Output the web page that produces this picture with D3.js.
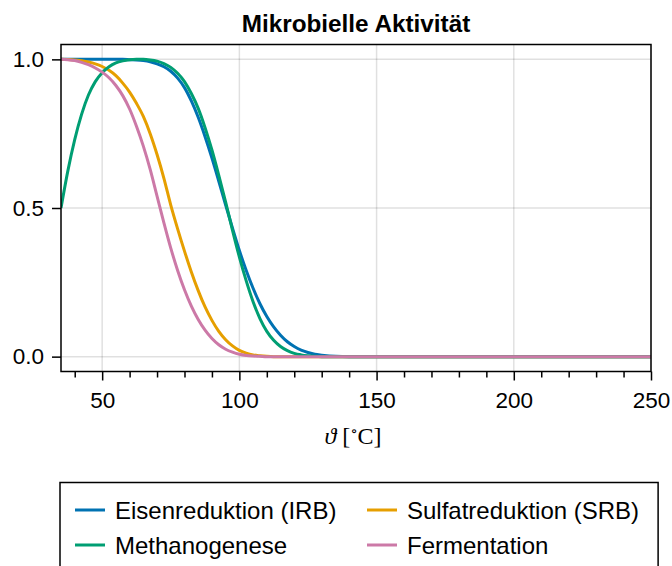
<!DOCTYPE html>
<html>
<head>
<meta charset="utf-8">
<script src="https://cdn.jsdelivr.net/npm/d3@7"></script>
<style>
  html, body { margin: 0; padding: 0; background: #fff; }
  svg { display: block; }
</style>
</head>
<body>
<svg id="chart" width="672" height="566"></svg>
<script>
// ---- Data ----
const temps = [35, 37.5, 40, 42.5, 45, 47.5, 50, 52.5, 55, 57.5,
               60, 62.5, 65, 67.5, 70, 72.5, 75, 77.5, 80, 82.5,
               85, 87.5, 90, 92.5, 95, 97.5, 100, 102.5, 105, 107.5,
               110, 112.5, 115, 117.5, 120, 122.5, 125, 127.5, 130,
               135, 140, 150, 175, 200, 225, 250];
const irb  = [1, 1, 1, 1, 1, 1, 1, 1, 1, 1,
              0.999, 0.998, 0.996, 0.992, 0.985, 0.975, 0.96, 0.937, 0.905, 0.86,
              0.805, 0.74, 0.668, 0.59, 0.51, 0.432, 0.357, 0.29, 0.23, 0.178,
              0.135, 0.1, 0.072, 0.05, 0.034, 0.022, 0.014, 0.008, 0.005,
              0.001, 0, 0, 0, 0, 0, 0];
const srb  = [1, 0.9995, 0.998, 0.995, 0.991, 0.985, 0.976, 0.963, 0.945, 0.92,
              0.89, 0.852, 0.808, 0.75, 0.68, 0.6, 0.51, 0.43, 0.355, 0.285,
              0.222, 0.167, 0.122, 0.085, 0.057, 0.036, 0.021, 0.012, 0.006, 0.003,
              0.001, 0, 0, 0, 0, 0, 0, 0, 0,
              0, 0, 0, 0, 0, 0, 0];
const meth = [0.5, 0.625, 0.73, 0.815, 0.88, 0.925, 0.955, 0.975, 0.988, 0.995,
              0.999, 1, 1, 0.998, 0.994, 0.986, 0.973, 0.953, 0.925, 0.885,
              0.835, 0.77, 0.695, 0.61, 0.52, 0.425, 0.335, 0.255, 0.185, 0.128,
              0.085, 0.055, 0.034, 0.02, 0.011, 0.006, 0.003, 0.001, 0,
              0, 0, 0, 0, 0, 0, 0];
const ferm = [1, 0.999, 0.996, 0.99, 0.982, 0.971, 0.957, 0.938, 0.912, 0.878,
              0.833, 0.775, 0.708, 0.63, 0.54, 0.45, 0.365, 0.29, 0.225, 0.17,
              0.125, 0.089, 0.061, 0.04, 0.025, 0.015, 0.008, 0.004, 0.002, 0.001,
              0, 0, 0, 0, 0, 0, 0, 0, 0,
              0, 0, 0, 0, 0, 0, 0];

const seriesNames  = ["Eisenreduktion (IRB)", "Sulfatreduktion (SRB)", "Methanogenese", "Fermentation"];
const seriesValues = [irb, srb, meth, ferm];
const seriesColors = ["#0072B2", "#E69F00", "#009E73", "#CC79A7"];

const xTicks = [50, 100, 150, 200, 250];
const xMinorTicks = [40, 60, 70, 80, 90, 110, 120, 130, 140, 160, 170, 180, 190, 210, 220, 230, 240];
const yTicks = [0.0, 0.5, 1.0];
const yTickLabels = ["0.0", "0.5", "1.0"];

const titleText = "Mikrobielle Aktivität";

// ---- Layout ----
const svg = d3.select("#chart");
const pL = 61, pR = 651, pT = 44.5, pB = 371.5;
const font = "'Liberation Sans', Arial, Helvetica, sans-serif";

const x = d3.scaleLinear().domain([35, 250]).range([pL, pR]);
const y = d3.scaleLinear().domain([-0.05, 1.05]).range([pB, pT]);

// grid
const grid = svg.append("g");
grid.selectAll("line.gx").data(xTicks).join("line")
  .attr("x1", d => x(d)).attr("x2", d => x(d))
  .attr("y1", pT).attr("y2", pB)
  .attr("stroke", "#000").attr("stroke-opacity", 0.12).attr("stroke-width", 1.5);
grid.selectAll("line.gy").data(yTicks).join("line")
  .attr("y1", d => y(d)).attr("y2", d => y(d))
  .attr("x1", pL).attr("x2", pR)
  .attr("stroke", "#000").attr("stroke-opacity", 0.12).attr("stroke-width", 1.5);

// clip
svg.append("clipPath").attr("id", "clip").append("rect")
  .attr("x", pL).attr("y", pT).attr("width", pR - pL).attr("height", pB - pT);

const line = d3.line()
  .x((d, i) => x(temps[i]))
  .y(d => y(d))
  .curve(d3.curveMonotoneX);

const lines = svg.append("g").attr("clip-path", "url(#clip)");
seriesValues.forEach((vals, k) => {
  lines.append("path")
    .attr("d", line(vals))
    .attr("fill", "none")
    .attr("stroke", seriesColors[k])
    .attr("stroke-width", 3)
    .attr("stroke-linejoin", "round");
});

// axes
const xAxis = d3.axisBottom(x).tickValues(xTicks).tickSize(9).tickPadding(12).tickFormat(d3.format("d"));
const gx = svg.append("g").attr("transform", `translate(0,${pB})`).call(xAxis);
gx.select(".domain").remove();
gx.selectAll(".tick line").attr("stroke-width", 1.5);
gx.selectAll(".tick text").attr("font-family", font).attr("font-size", 22.5).attr("fill", "#000");

const xMinorAxis = d3.axisBottom(x).tickValues(xMinorTicks).tickSize(6).tickFormat("");
const gxm = svg.append("g").attr("transform", `translate(0,${pB})`).call(xMinorAxis);
gxm.select(".domain").remove();
gxm.selectAll(".tick line").attr("stroke-width", 1.5);

const yAxis = d3.axisLeft(y).tickValues(yTicks).tickSize(9).tickPadding(8).tickFormat((d, i) => yTickLabels[i]);
const gy = svg.append("g").attr("transform", `translate(${pL},0)`).call(yAxis);
gy.select(".domain").remove();
gy.selectAll(".tick line").attr("stroke-width", 1.5);
gy.selectAll(".tick text").attr("font-family", font).attr("font-size", 22.5).attr("fill", "#000");

// frame
svg.append("rect")
  .attr("x", pL).attr("y", pT).attr("width", pR - pL).attr("height", pB - pT)
  .attr("fill", "none").attr("stroke", "#000").attr("stroke-width", 1.5);

// title
svg.append("text")
  .attr("x", (pL + pR) / 2).attr("y", 32)
  .attr("text-anchor", "middle")
  .attr("font-family", font).attr("font-weight", "bold").attr("font-size", 24.3)
  .text(titleText);

// x label
const xl = svg.append("text")
  .attr("x", (pL + pR) / 2 - 3).attr("y", 444)
  .attr("text-anchor", "middle")
  .attr("font-family", "'Liberation Serif', 'DejaVu Serif', serif").attr("font-size", 24);
xl.append("tspan").attr("font-style", "italic").text("ϑ");
xl.append("tspan").text(" [");
xl.append("tspan").attr("font-size", 15).attr("dy", -8).text("∘");
xl.append("tspan").attr("dy", 8).text("C]");

// legend
const legX = 60, legY = 482.5;
const legRect = svg.append("rect")
  .attr("x", legX).attr("y", legY).attr("height", 100)
  .attr("fill", "#fff").attr("stroke", "#000").attr("stroke-width", 1.5);

const colX = [75, 367];
const rowY = [510, 545];
let maxRight = 0;
seriesNames.forEach((name, k) => {
  const cx = colX[k % 2], cy = rowY[Math.floor(k / 2)];
  svg.append("line")
    .attr("x1", cx).attr("x2", cx + 30).attr("y1", cy).attr("y2", cy)
    .attr("stroke", seriesColors[k]).attr("stroke-width", 3);
  const t = svg.append("text")
    .attr("x", cx + 40).attr("y", cy).attr("dy", "0.36em")
    .attr("font-family", font).attr("font-size", 24)
    .text(name);
  maxRight = Math.max(maxRight, cx + 40 + t.node().getComputedTextLength());
});
legRect.attr("width", maxRight + 19 - legX);
</script>
</body>
</html>
